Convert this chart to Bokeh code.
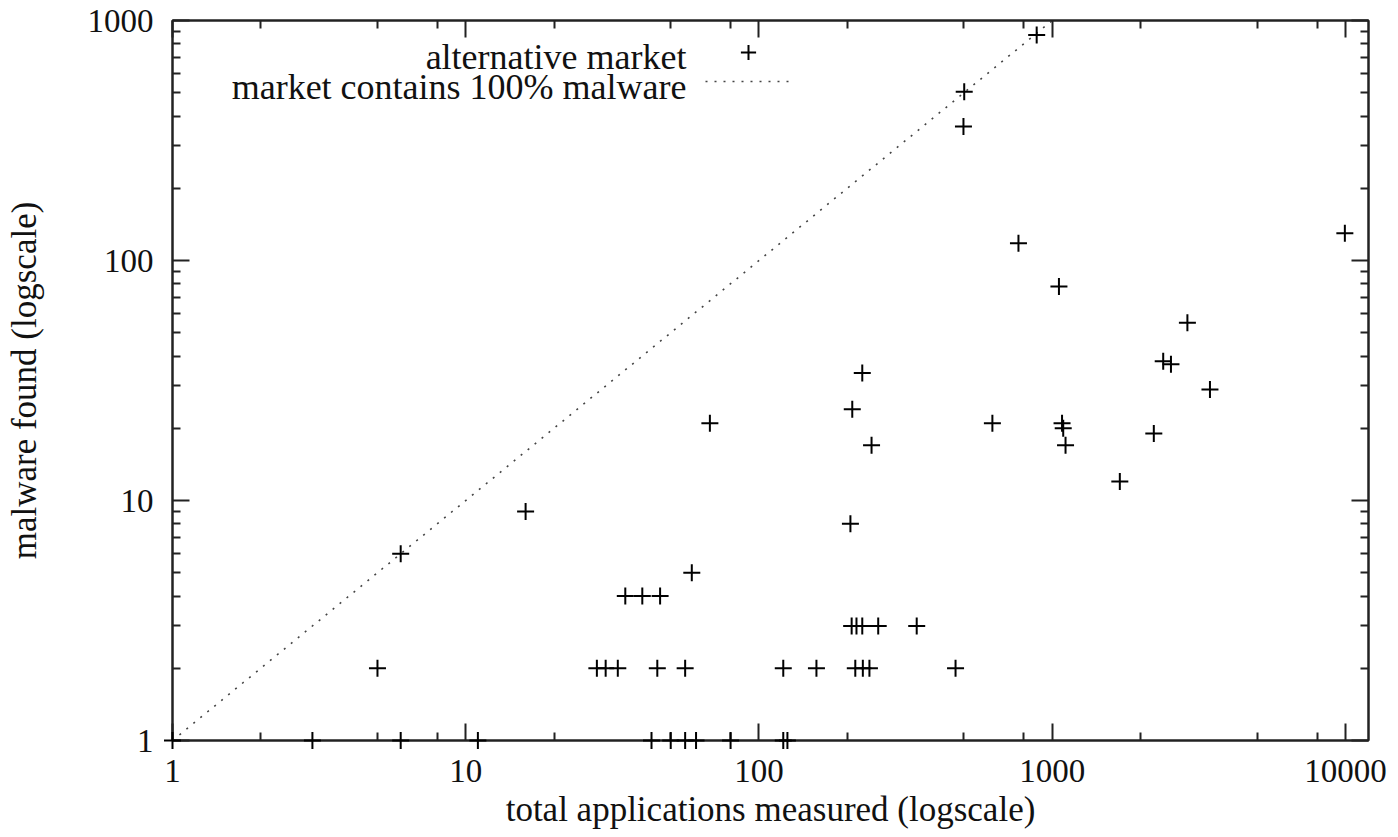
from bokeh.plotting import figure
from bokeh.models import (FixedTicker, LogAxis, Label, Legend, LegendItem,
                          ColumnDataSource, Range1d, CustomJSTickFormatter)
from bokeh.embed import file_html
from bokeh.resources import INLINE

# ---- data: total applications measured vs malware found, per alternative market
total_apps = [1, 3, 6, 11, 43, 50, 56, 61, 80, 121, 125,
              5, 28, 30, 33, 45, 56, 121, 157, 213, 226, 238, 468,
              207, 215, 225, 255, 345,
              35, 40, 46,
              59, 6, 205, 16,
              1700, 242, 1110, 2220, 1080, 1090, 625, 68, 208,
              3450, 225, 2390, 2540, 2890, 1054, 767, 9950,
              498, 501, 885]
malware_found = [1, 1, 1, 1, 1, 1, 1, 1, 1, 1, 1,
                 2, 2, 2, 2, 2, 2, 2, 2, 2, 2, 2, 2,
                 3, 3, 3, 3, 3,
                 4, 4, 4,
                 5, 6, 8, 9,
                 12, 17, 17, 19, 21, 20, 21, 21, 24,
                 29, 34, 38, 37, 55, 78, 118, 130,
                 362, 505, 870]

# reference line: market contains 100% malware (y = x)
ref_x = [1, 12000]
ref_y = [1, 12000]

x_major = [1, 10, 100, 1000, 10000]
x_minor = [m * d for d in [1, 10, 100, 1000] for m in (2, 5, 8)]
y_major = [1, 10, 100, 1000]
y_minor = [m * d for d in [1, 10, 100] for m in range(2, 10)]

FONT = "Liberation Serif"
TXT = "#111111"
AX = "#222222"

p = figure(frame_width=1196, frame_height=720,
           x_axis_type="log", y_axis_type="log",
           x_range=Range1d(1, 11980), y_range=Range1d(1, 1000),
           output_backend="svg", toolbar_location=None,
           min_border_left=172, min_border_top=20, min_border_right=30,
           min_border_bottom=97,
           background_fill_color="white", border_fill_color="white")
p.grid.visible = False
p.outline_line_color = AX
p.outline_line_width = 2

src = ColumnDataSource(dict(x=total_apps, y=malware_found))
ref = p.line(ref_x, ref_y, line_color="#444444", line_width=1.6,
             line_dash="2 7")
pts = p.scatter("x", "y", source=src, marker="cross", size=17,
                line_color="black", line_width=2, level="overlay")

blank = CustomJSTickFormatter(code="return ''")
plain = CustomJSTickFormatter(code="return tick.toFixed(0)")

def style(ax, ticks, minors, labels=True):
    ax.ticker = FixedTicker(ticks=ticks, minor_ticks=minors)
    ax.major_tick_in = 17
    ax.major_tick_out = 0
    ax.minor_tick_in = 8
    ax.minor_tick_out = 0
    ax.major_tick_line_color = AX
    ax.minor_tick_line_color = AX
    ax.major_tick_line_width = 2
    ax.minor_tick_line_width = 2
    ax.axis_line_color = AX
    ax.axis_line_width = 2
    if labels:
        ax.formatter = plain
        ax.major_label_text_font = FONT
        ax.major_label_text_font_size = "33px"
        ax.major_label_text_color = TXT
        ax.axis_label_text_font = FONT
        ax.axis_label_text_font_size = "35px"
        ax.axis_label_text_font_style = "normal"
        ax.axis_label_text_color = TXT
    else:
        ax.formatter = blank
        ax.major_label_text_font_size = "6px"
        ax.major_label_standoff = 0

xa = p.xaxis[0]
style(xa, x_major, x_minor)
xa.axis_label = "total applications measured (logscale)"
xa.major_label_standoff = 19
xa.axis_label_standoff = 5

ya = p.yaxis[0]
style(ya, y_major, y_minor)
ya.axis_label = "malware found (logscale)"
ya.major_label_standoff = 19
ya.axis_label_standoff = 41

top = LogAxis()
style(top, x_major, x_minor, labels=False)
p.add_layout(top, "above")
right = LogAxis()
style(right, y_major, y_minor, labels=False)
p.add_layout(right, "right")

# legend: text right-aligned (screen units inside the frame), samples to the right
for txt, yy in (("alternative market", 684), ("market contains 100% malware", 654)):
    p.add_layout(Label(x=514, y=yy, x_units="screen", y_units="screen",
                       text=txt, text_align="right", text_baseline="middle",
                       text_font=FONT, text_font_size="36px", text_color=TXT))

for rend, loc in ((pts, (531, 669)), (ref, (533, 640))):
    p.add_layout(Legend(items=[LegendItem(label="", renderers=[rend])],
                        location=loc, glyph_width=90, glyph_height=38,
                        padding=0, margin=0, label_standoff=0, label_width=0,
                        label_text_font_size="6px", border_line_color=None,
                        background_fill_alpha=0), "center")

open("out.html", "w").write(file_html(p, INLINE))
